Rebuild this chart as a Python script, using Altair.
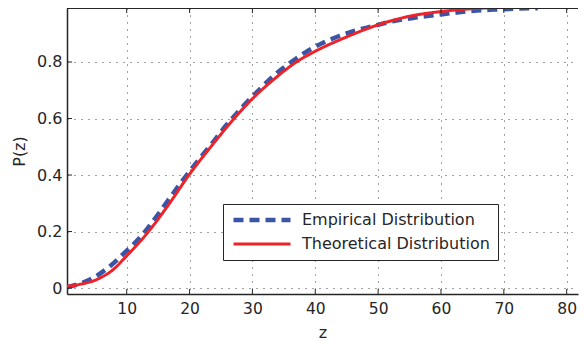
import altair as alt
import pandas as pd

# ---- data ----
series = ["Empirical Distribution", "Theoretical Distribution"]

emp_z = [0.5, 2.5, 4.6, 7.2, 9.8, 12.4, 13.9, 16.0, 18.6, 20.4, 22.5, 23.8, 25.6,
         27.7, 29.0, 31.0, 33.3, 35.9, 38.5, 41.4, 43.7, 46.3, 49.4, 52.5, 55.9,
         59.2, 62.5, 65.7, 69.0, 72.4, 75.4]
emp_p = [0.003, 0.015, 0.035, 0.075, 0.128, 0.186, 0.228, 0.292, 0.372, 0.424, 0.483,
         0.518, 0.570, 0.623, 0.655, 0.700, 0.750, 0.795, 0.835, 0.870, 0.891, 0.911,
         0.928, 0.945, 0.957, 0.966, 0.975, 0.982, 0.986, 0.989, 0.990]

theo_z = [0.5, 2.5, 5.0, 6.2, 7.5, 10.0, 13.4, 16.5, 20.0, 23.5, 26.9, 30.0, 33.6,
          37.0, 40.0, 44.5, 49.8, 54.8, 59.8, 64.0, 68.0, 75.0, 82.0]
theo_p = [0.006, 0.013, 0.028, 0.041, 0.059, 0.114, 0.198, 0.290, 0.403, 0.503, 0.595,
          0.670, 0.742, 0.800, 0.838, 0.884, 0.930, 0.961, 0.978, 0.987, 0.992, 0.997, 0.999]

x_ticks = [10, 20, 30, 40, 50, 60, 70, 80]
y_ticks = [0, 0.2, 0.4, 0.6, 0.8]

df = pd.DataFrame({
    "z": emp_z + theo_z,
    "P": emp_p + theo_p,
    "series": [series[0]] * len(emp_z) + [series[1]] * len(theo_z),
})
tx = pd.DataFrame({"t": x_ticks})
ty = pd.DataFrame({"t": y_ticks})

W, H = 511, 286
FONT = "DejaVu Sans"
INK = "#262626"

xs = alt.Scale(domain=[0.5, 81.8], nice=False, zero=False)
ys = alt.Scale(domain=[-0.021, 0.991], nice=False, zero=False)

xaxis = alt.Axis(values=x_ticks, title="z", format="d", grid=True, tickSize=0,
                 labelPadding=7, titlePadding=8, domain=True, labelFontSize=15.5)
yaxis = alt.Axis(values=y_ticks, title="P(z)", format="~g", grid=True, tickSize=0,
                 labelPadding=5, titlePadding=9, domain=True)

leg = alt.Legend(
    orient="none", legendX=156, legendY=196, title=None,
    symbolType="stroke", symbolSize=3249, clipHeight=16,
    labelFontSize=16, labelFont=FONT,
    labelColor=INK, labelOffset=9, padding=8, rowPadding=8,
    strokeColor=INK, fillColor="white", labelLimit=400,
)

lines = alt.Chart(df).mark_line(clip=True, interpolate="monotone").encode(
    x=alt.X("z:Q", scale=xs, axis=xaxis),
    y=alt.Y("P:Q", scale=ys, axis=yaxis),
    color=alt.Color("series:N", scale=alt.Scale(domain=series, range=["#3a55a5", "#ee2329"]), legend=leg),
    strokeDash=alt.StrokeDash("series:N", scale=alt.Scale(domain=series, range=[[10, 6], [1, 0]]), legend=leg),
    strokeWidth=alt.StrokeWidth("series:N", scale=alt.Scale(type="ordinal", domain=series, range=[4.5, 3]), legend=leg),
)

tick_bottom = alt.Chart(tx).mark_rule(color=INK, strokeWidth=1).encode(
    x=alt.X("t:Q", scale=xs, axis=xaxis), y=alt.value(H), y2=alt.value(H - 5))
tick_top = alt.Chart(tx).mark_rule(color=INK, strokeWidth=1).encode(
    x=alt.X("t:Q", scale=xs, axis=xaxis), y=alt.value(0), y2=alt.value(5))
tick_left = alt.Chart(ty).mark_rule(color=INK, strokeWidth=1).encode(
    y=alt.Y("t:Q", scale=ys, axis=yaxis), x=alt.value(0), x2=alt.value(5))
top_border = alt.Chart(tx).mark_rule(color=INK, strokeWidth=1.5).encode(
    x=alt.value(0), x2=alt.value(W), y=alt.value(0))

chart = alt.layer(lines, tick_bottom, tick_top, tick_left, top_border).properties(
    width=W, height=H,
    autosize=alt.AutoSizeParams(type="none"),
    padding={"left": 59, "top": 0, "right": 1, "bottom": 47},
).configure_view(stroke=None).configure_axis(
    labelFont=FONT, titleFont=FONT, labelFontSize=16, titleFontSize=16,
    labelColor=INK, titleColor=INK, titleFontWeight="normal",
    domainColor=INK, domainWidth=1.5,
    gridColor="#333333", gridDash=[1, 6], gridWidth=1, gridOpacity=0.9,
)

chart.save("out.html", embed_options={"renderer": "svg", "actions": False})
